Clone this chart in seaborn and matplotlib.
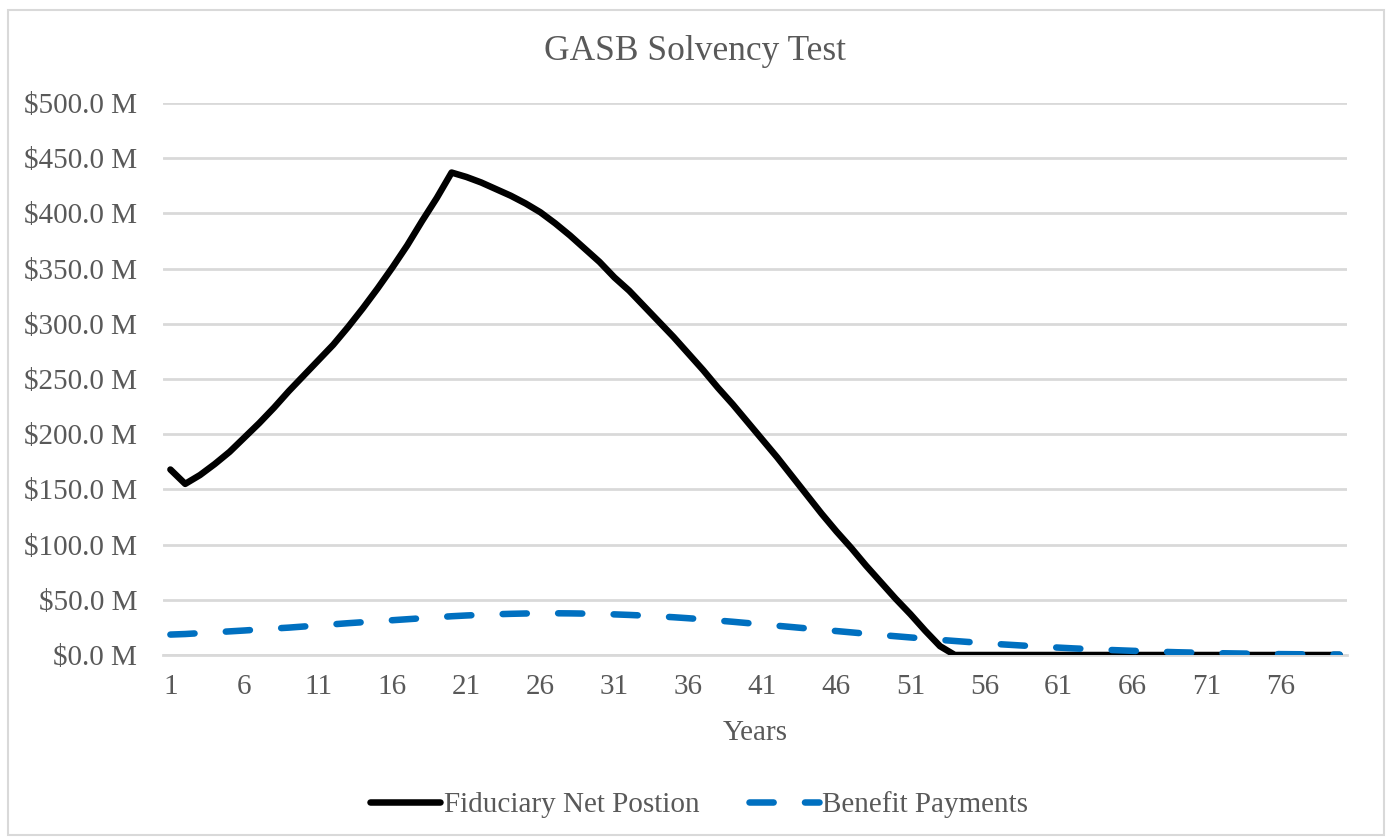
import numpy as np
import pandas as pd
import matplotlib
matplotlib.use("Agg")
import matplotlib.pyplot as plt
import seaborn as sns
from matplotlib.patches import Rectangle
from matplotlib.ticker import FuncFormatter, FixedLocator

# ---------------- data ----------------
years = list(range(1, 81))

fiduciary_net_position = [
    168, 155, 163, 173, 184, 197, 210, 224, 239, 253,
    267, 281, 297, 314, 332, 351, 371, 393, 414, 437,
    433, 428, 422, 416, 409, 401, 391, 380, 368, 356,
    342, 330, 316, 302, 288, 273, 258, 242, 227, 211,
    195, 179, 162, 145, 128, 112, 97, 81, 66, 51,
    37, 22, 8, 0, 0, 0, 0, 0, 0, 0,
    0, 0, 0, 0, 0, 0, 0, 0, 0, 0,
    0, 0, 0, 0, 0, 0, 0, 0, 0, 0,
]

benefit_payments = [
    18.5, 19.0, 19.8, 20.6, 21.4, 22.2, 23.1, 24.0, 24.8, 25.8,
    26.8, 27.8, 28.8, 29.7, 30.6, 31.5, 32.4, 33.3, 34.2, 35.1,
    35.8, 36.4, 36.9, 37.3, 37.6, 37.8, 37.8, 37.7, 37.5, 37.2,
    36.8, 36.3, 35.7, 35.0, 34.2, 33.3, 32.3, 31.2, 30.1, 28.9,
    27.7, 26.5, 25.3, 24.1, 22.9, 21.7, 20.5, 19.3, 18.1, 17.0,
    15.9, 14.8, 13.7, 12.7, 11.7, 10.7, 9.8, 9.0, 8.2, 7.4,
    6.7, 6.0, 5.4, 4.8, 4.3, 3.8, 3.3, 2.9, 2.5, 2.2,
    1.9, 1.6, 1.4, 1.2, 1.0, 0.8, 0.7, 0.6, 0.5, 0.4,
]

series_names = ["Fiduciary Net Postion", "Benefit Payments"]
title_text = "GASB Solvency Test"
x_label = "Years"
x_tick_years = list(range(1, 80, 5))
y_ticks = [0, 50, 100, 150, 200, 250, 300, 350, 400, 450, 500]

# ---------------- style ----------------
sns.set_theme(style="white")
plt.rcParams["font.family"] = ["Liberation Serif", "DejaVu Serif"]
TEXT = "#595959"
GRID = "#d9d9d9"
BLUE = "#0070C0"

fig = plt.figure(figsize=(13.9, 8.4), dpi=100)
ax = fig.add_axes([163 / 1390, 1 - 655 / 840, (1347 - 163) / 1390, (655 - 103) / 840])

df = pd.DataFrame({
    "Year": years * 2,
    "Value": fiduciary_net_position + benefit_payments,
    "Series": [series_names[0]] * len(years) + [series_names[1]] * len(years),
})

sns.lineplot(
    data=df, x="Year", y="Value", hue="Series", style="Series",
    palette={series_names[0]: "black", series_names[1]: BLUE},
    dashes={series_names[0]: "", series_names[1]: (3.7, 4.8)},
    linewidth=4.7, ax=ax, legend=True, zorder=3,
)
for ln in ax.get_lines():
    ln.set_solid_capstyle("round")
    ln.set_dash_capstyle("round")
    ln.set_solid_joinstyle("round")

ax.set_xlim(0.5, 80.5)
ax.set_ylim(0, 500)
ax.yaxis.set_major_locator(FixedLocator(y_ticks))
ax.yaxis.set_major_formatter(FuncFormatter(lambda v, p: f"${v:,.1f} M"))
ax.xaxis.set_major_locator(FixedLocator(x_tick_years))
ax.xaxis.set_major_formatter(FuncFormatter(lambda v, p: f"{int(round(v))}"))

ax.grid(axis="y", color=GRID, linewidth=2.0, zorder=0)
ax.grid(axis="x", visible=False)
for s in ["top", "right", "left"]:
    ax.spines[s].set_visible(False)
ax.spines["bottom"].set_color(GRID)
ax.spines["bottom"].set_linewidth(2.0)

ax.tick_params(axis="y", length=0, pad=18.5, labelsize=21, labelcolor=TEXT)
ax.tick_params(axis="x", length=0, pad=14, labelsize=21, labelcolor=TEXT)

ax.set_ylabel("")
ax.set_xlabel(x_label, fontsize=21, color=TEXT)
ax.xaxis.set_label_coords(0.5, -0.118)

# legend at bottom
handles, labels = ax.get_legend_handles_labels()
ax.legend_.remove()
for h in handles:
    h.set_linewidth(4.7)
    h.set_solid_capstyle("round")
    h.set_dash_capstyle("round")
leg = fig.legend(
    handles, labels, loc="center", bbox_to_anchor=(0.503, 1 - 805 / 840),
    ncol=2, frameon=False, fontsize=21, handlelength=2.4,
    handletextpad=0.12, columnspacing=1.7,
)
for t in leg.get_texts():
    t.set_color(TEXT)

fig.text(0.5, 1 - 52 / 840, title_text, ha="center", va="center",
         fontsize=25.5, color=TEXT)

fig.patches.append(Rectangle((8 / 1390, 1 - 835 / 840), (1384 - 8) / 1390, (835 - 10) / 840,
                             transform=fig.transFigure, fill=False,
                             edgecolor=GRID, linewidth=1.5))

fig.savefig("out.png", dpi=100, facecolor="white")
